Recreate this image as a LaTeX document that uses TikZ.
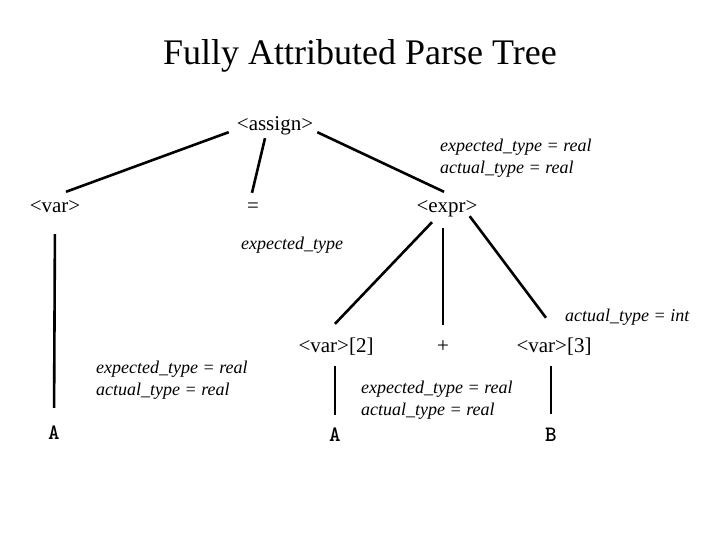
\documentclass[tikz,border=0pt]{standalone}
\usepackage{fontspec}
\setmainfont{Liberation Serif}
\usetikzlibrary{calc}

\tikzset{
  sym/.style={inner sep=0pt, text height=14pt, text depth=4pt, font=\fontsize{21}{25}\selectfont},
  leaf/.style={inner sep=0pt, text height=14pt, text depth=4pt, font=\fontsize{22}{26}\selectfont\ttfamily\bfseries},
  attr/.style={inner sep=0pt, anchor=west, align=left, font=\fontsize{18}{22.5}\selectfont\itshape},
  edge/.style={line width=2.6pt}
}

\begin{document}
\begin{tikzpicture}[x=1pt,y=-1pt]
    \useasboundingbox (0,0) rectangle (720,540);
    % title
    \node (title) at (360,56) {\fontsize{36}{41}\selectfont Fully Attributed Parse Tree};

    % symbols
    \node[sym] (assign) at (275,126) {<assign>};
    \node[sym] (var) at (55,208) {<var>};
    \node[sym] (eq) at (253,208) {=};
    \node[sym] (expr) at (447,208) {<expr>};
    \node[sym] (var2) at (336,347) {<var>[2]};
    \node[sym] (plus) at (443,347) {+};
    \node[sym] (var3) at (554,347) {<var>[3]};
    \node[leaf] (a1) at (54,434) {A};
    \node[leaf] (a2) at (335,436) {A};
    \node[leaf] (b) at (551,436) {B};

    % attributes
    \node[attr] (attrexpr) at (440,158) {expected\_type = real\\actual\_type = real};
    \node[attr] (attreq) at (241,245) {expected\_type};
    \node[attr] (attrvarthree) at (565,317) {actual\_type = int};
    \node[attr] (attrvar) at (96,380) {expected\_type = real\\actual\_type = real};
    \node[attr] (attrvartwo) at (361,400) {expected\_type = real\\actual\_type = real};

    % tree edges
    \draw[edge] ($(assign.south west)+(-8,-3)$) -- ($(var.north)+(11,-7)$);
    \draw[edge] ($(assign.south)+(-10,3)$) -- ($(eq.north)+(-1,-6)$);
    \draw[edge] ($(assign.south east)+(4,-3)$) -- ($(expr.north)+(-3,-7)$);
    \draw[edge, shorten <=17pt, shorten >=17pt] (var.south) -- (a1.north);
    \draw[edge] ($(expr.south)+(-15,5)$) -- ($(var2.north)+(-1,-14)$);
    \draw[edge, shorten <=11pt, shorten >=13pt] (expr.south -| plus) -- (plus.north);
    \draw[edge] ($(expr.south east)+(-8,-1)$) -- ($(var3.north)+(-8,-20)$);
    \draw[edge, shorten <=10pt, shorten >=12pt] (var2.south -| a2) -- (a2.north);
    \draw[edge, shorten <=10pt, shorten >=13pt] (var3.south -| b) -- (b.north);
\end{tikzpicture}
\end{document}
